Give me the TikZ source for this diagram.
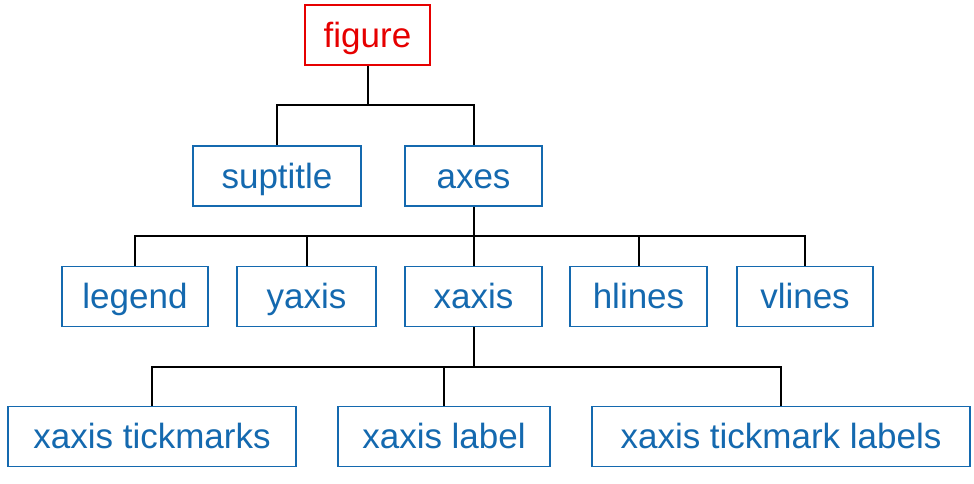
\documentclass[tikz,border=0pt]{standalone}
\usepackage{fontspec}
\setmainfont{Liberation Sans}
\usetikzlibrary{positioning}
\definecolor{boxblue}{RGB}{20,105,175}
\definecolor{boxred}{RGB}{230,0,0}
\tikzset{
  item/.style={draw=boxblue,text=boxblue,line width=1.8pt,inner sep=0pt,
    minimum height=60pt,text height=28pt,text depth=4pt,
    font=\fontsize{35}{40}\selectfont},
  top/.style={item,draw=boxred,text=boxred},
  link/.style={black,line width=2pt}
}
\begin{document}
\begin{tikzpicture}[x=1pt,y=-1pt]
\useasboundingbox (0,0) rectangle (974,483);

% top level
\node[top,minimum width=125pt] (figure) at (367.5,35) {figure};

% second level
\node[item,minimum width=168pt] (suptitle) at (277,176) {suptitle};
\node[item,minimum width=137pt] (axes) at (473.5,176) {axes};

% third level
\node[item,minimum width=146pt] (legend) at (135,296.5) {legend};
\node[item,minimum width=139pt] (yaxis) at (306.5,296.5) {yaxis};
\node[item,minimum width=137pt] (xaxis) at (473.5,296.5) {xaxis};
\node[item,minimum width=137pt] (hlines) at (638.5,296.5) {hlines};
\node[item,minimum width=136pt] (vlines) at (805,296.5) {vlines};

% fourth level
\node[item,minimum width=288pt] (ticks) at (152,436.5) {xaxis tickmarks};
\node[item,minimum width=212pt] (xlabel) at (444,436.5) {xaxis label};
\node[item,minimum width=378pt] (ticklabels) at (781,436.5) {xaxis tickmark labels};

% branch points
\coordinate (b1) at (367.5,105);
\coordinate (b2) at (473.5,236);
\coordinate (b3) at (473.5,367);

\draw[link] (figure.south) -- (b1);
\draw[link] (suptitle.north) |- (b1) -| (axes.north);

\draw[link] (axes.south) -- (xaxis.north);
\draw[link] (legend.north) |- (b2) -| (vlines.north);
\draw[link] (yaxis.north) |- (b2);
\draw[link] (hlines.north) |- (b2);

\draw[link] (xaxis.south) -- (b3);
\draw[link] (ticks.north) |- (b3) -| (ticklabels.north);
\draw[link] (xlabel.north) |- (b3);
\end{tikzpicture}
\end{document}
